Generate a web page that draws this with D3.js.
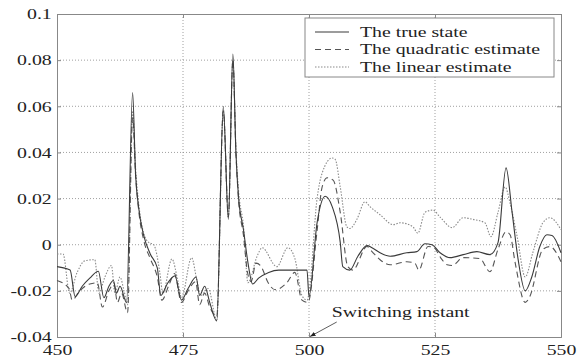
<!DOCTYPE html>
<html>
<head>
<meta charset="utf-8">
<script src="https://cdn.jsdelivr.net/npm/d3@7"></script>
<style>
body{margin:0;background:#fff;}
svg{display:block;}
</style>
</head>
<body>
<svg id="canvas" width="578" height="363"></svg>
<script>
// ticks
const xTicks=[450,475,500,525,550];
const yTicks=[-0.04,-0.02,0,0.02,0.04,0.06,0.08,0.1];
const yLabels=["-0.04","-0.02","0","0.02","0.04","0.06","0.08","0.1"];
const seriesNames=["The true state","The quadratic estimate","The linear estimate"];

// the true state (solid)
const trueK=[450,452.6,453.6,455,456.5,458.2,459.3,460.3,461.2,461.8,462.5,463.8,465,465.6,466.2,467.2,468.5,469.9,470.6,472,473.4,474.7,476,477.6,478.3,479.3,480.3,481.7,483,484,484.9,485.5,486,487,487.9,488.8,490,492,494,499.6,500,501.6,503.2,504.6,506.2,506.7,508.1,509.7,511.5,512.5,514.1,516.1,519.4,521.4,523,524.4,526,528,530.6,533.3,535.9,537.5,539.1,540.3,541.5,542.9,544.2,545.8,547.2,548.2,550];
const trueV=[-0.0095,-0.011,-0.0225,-0.018,-0.0145,-0.0115,-0.023,-0.018,-0.0155,-0.021,-0.018,-0.025,0.066,0.03,0.016,0.004,-0.004,-0.010,-0.022,-0.0165,-0.0135,-0.024,-0.019,-0.014,-0.022,-0.018,-0.025,-0.033,0.06,0.011,0.0826,0.04,0.021,0.0065,-0.008,-0.017,-0.0145,-0.012,-0.011,-0.011,-0.0225,0.0095,0.021,0.0165,0.001,-0.0095,-0.011,-0.005,-0.0004,-0.0013,-0.0035,-0.005,-0.0035,-0.003,0.0004,0,-0.0035,-0.0056,-0.0043,-0.003,-0.0043,0.0009,0.0333,0.014,-0.0065,-0.020,-0.014,-0.0008,0.0043,0.004,-0.0035];

// the quadratic estimate (dashed)
const quadK=[450,452.4,453,454.5,456.5,458,459,460.3,461.3,462,462.8,464,465,465.6,466.2,467.2,468.5,469.9,470.8,472.3,473.3,474.7,476,477.5,478.3,479.3,480.3,481.7,483,484,484.9,485.5,486,487,487.8,488.5,489.5,490.5,491.9,493.3,495.6,497.2,498.6,499.8,501.6,502.6,503.6,504.8,506.2,507.7,508.7,511.5,512.5,514.1,516.1,519.4,521,521.8,523.6,524.6,526.4,527.4,528.4,530.6,533.9,535.9,537.5,539.1,539.9,540.9,542.9,543.8,546.4,547.8,550];
const quadV=[-0.0155,-0.019,-0.024,-0.02,-0.017,-0.0165,-0.027,-0.02,-0.017,-0.025,-0.021,-0.0295,0.055,0.03,0.015,0.002,-0.006,-0.014,-0.024,-0.017,-0.0125,-0.025,-0.02,-0.016,-0.026,-0.021,-0.027,-0.031,0.058,0.012,0.08,0.04,0.02,0.004,-0.012,-0.016,-0.008,-0.0095,-0.0165,-0.0195,-0.0165,-0.012,-0.024,-0.025,0.006,0.025,0.029,0.028,0.014,-0.0095,-0.011,-0.0008,-0.003,-0.0065,-0.0087,-0.0074,-0.008,-0.011,-0.0008,-0.001,-0.0065,-0.0087,-0.009,-0.0056,-0.006,-0.0117,-0.002,0.0056,0.0043,-0.0078,-0.025,-0.0225,-0.002,-0.0008,-0.0074];

// the linear estimate (dotted)
const linK=[450,451.2,452.5,454,455.5,457.5,458.3,459.5,460.8,461.5,462.5,463.3,464,465,465.6,466.2,467.2,468.2,469.2,470.4,471,472.8,474,474.7,476.7,477.8,478.5,480,481.7,483,484,484.9,485.5,486,487,487.9,489.7,490.7,493.6,495.8,497.2,498.6,499.6,500,501.6,502.6,504.6,505.2,506.2,507.5,508.1,509.5,511.1,512.1,514.1,516.7,518.1,520.6,521.6,523,524.6,526,528.4,530.6,532.5,534.9,536.1,537.5,538.9,539.9,541.3,542.9,544.4,546.4,547.8,550];
const linV=[-0.004,-0.004,-0.021,-0.012,-0.007,-0.0065,-0.021,-0.014,-0.009,-0.021,-0.014,-0.02,-0.026,0.058,0.033,0.018,0.005,0.001,0.0,-0.012,-0.021,-0.0062,-0.016,-0.023,-0.0057,-0.016,-0.022,-0.019,-0.0325,0.058,0.012,0.08,0.042,0.024,0.008,-0.0165,-0.005,-0.0013,-0.0095,-0.0013,-0.006,-0.022,-0.024,-0.021,0.02,0.031,0.0376,0.037,0.025,0.0078,0.007,0.011,0.0186,0.0165,0.013,0.0087,0.0095,0.0078,0.005,0.014,0.015,0.012,0.0074,0.0117,0.011,0.0095,0.0035,0.014,0.025,0.018,0.0035,-0.014,-0.0035,0.0095,0.0117,0.0065];

let canvas=d3.select("#canvas");
let sx=1.32; // the reference text is stretched sideways
let font="Liberation Serif, Times New Roman, serif";

let x=d3.scaleLinear().domain([450,550]).range([57,561]);
let y=d3.scaleLinear().domain([-0.04,0.1]).range([337,14]);

// grid
canvas.append("g").selectAll("line").data(xTicks.slice(1,-1)).enter().append("line")
  .attr("x1",d=>x(d)).attr("x2",d=>x(d)).attr("y1",y(0.1)).attr("y2",y(-0.04))
  .attr("stroke","#888").attr("stroke-width",0.8).attr("stroke-dasharray","1,2");
canvas.append("g").selectAll("line").data(yTicks.slice(1,-1)).enter().append("line")
  .attr("y1",d=>y(d)).attr("y2",d=>y(d)).attr("x1",x(450)).attr("x2",x(550))
  .attr("stroke","#888").attr("stroke-width",0.8).attr("stroke-dasharray","1,2");

// axes
let xAxis=d3.axisBottom(x).tickValues(xTicks).tickSize(-4).tickPadding(7).tickFormat(d3.format("d"));
let yAxis=d3.axisLeft(y).tickValues(yTicks).tickSize(-4).tickPadding(4).tickFormat((d,i)=>yLabels[i]);
let gx=canvas.append("g").attr("transform","translate(0,"+y(-0.04)+")").call(xAxis);
let gy=canvas.append("g").attr("transform","translate("+x(450)+",0)").call(yAxis);
canvas.append("g").attr("transform","translate(0,"+y(0.1)+")").call(d3.axisTop(x).tickValues(xTicks).tickSize(-4).tickFormat(""));
canvas.append("g").attr("transform","translate("+x(550)+",0)").call(d3.axisRight(y).tickValues(yTicks).tickSize(-4).tickFormat(""));
canvas.selectAll(".domain").attr("stroke","#888").attr("stroke-width",1);
canvas.selectAll(".tick line").attr("stroke","#888");
[gx,gy].forEach(g=>g.selectAll("text").attr("transform","scale("+sx+",1)").style("font","15px "+font).attr("fill","#222"));

// series
let seriesK=[trueK,quadK,linK];
let seriesV=[trueV,quadV,linV];
let strokes=["#3a3a3a","#555","#8a8a8a"];
let dashes=[null,"6,4","1.5,1.5"];
let line=d3.line().curve(d3.curveMonotoneX).x(d=>x(d[0])).y(d=>y(d[1]));
for(let s=2;s>=0;s--){
  canvas.append("path").datum(seriesK[s].map((k,i)=>[k,seriesV[s][i]]))
    .attr("d",line).attr("fill","none").attr("stroke",strokes[s])
    .attr("stroke-width",1.1).attr("stroke-dasharray",dashes[s]);
}

// legend
canvas.append("rect").attr("x",305).attr("y",18).attr("width",249).attr("height",59)
  .attr("fill","#fff").attr("stroke","#888").attr("stroke-width",1);
for(let i=0;i<3;i++){
  canvas.append("line").attr("x1",315).attr("x2",349).attr("y1",32+i*17.5).attr("y2",32+i*17.5)
    .attr("stroke",strokes[i]).attr("stroke-width",1.1).attr("stroke-dasharray",dashes[i]);
  canvas.append("text").text(seriesNames[i]).attr("transform","translate(360,"+(36.5+i*17.5)+") scale("+sx+",1)")
    .style("font","15px "+font).attr("fill","#222");
}

// switching instant annotation
canvas.append("defs").append("marker").attr("id","arr").attr("viewBox","0 0 10 10")
  .attr("refX",10).attr("refY",5).attr("markerWidth",7).attr("markerHeight",7).attr("orient","auto")
  .append("path").attr("d","M0,1L10,5L0,9Z").attr("fill","#222");
canvas.append("line").attr("x1",x(505.5)).attr("y1",y(-0.0335)).attr("x2",x(500.2)).attr("y2",y(-0.0398))
  .attr("stroke","#333").attr("stroke-width",0.8).attr("marker-end","url(#arr)");
canvas.append("text").text("Switching instant").attr("transform","translate("+x(504.5)+",317) scale("+sx+",1)")
  .style("font","15px "+font).attr("fill","#222");
</script>
</body>
</html>
